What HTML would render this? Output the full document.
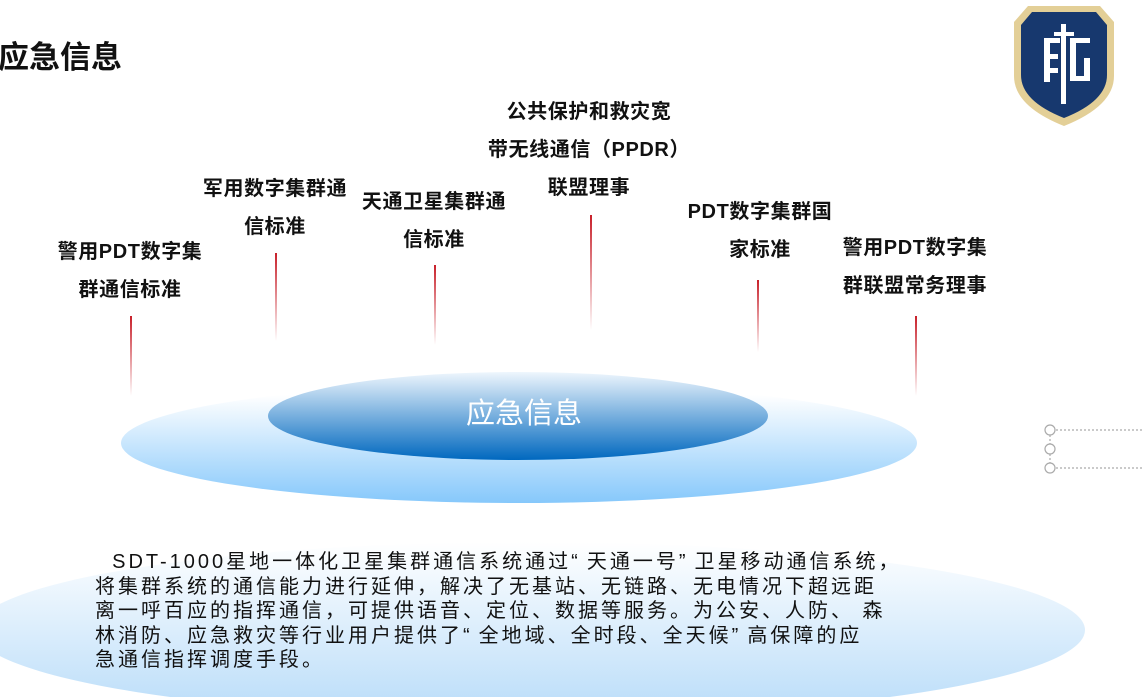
<!DOCTYPE html>
<html><head><meta charset="utf-8"><style>
body{margin:0;width:1142px;height:697px;overflow:hidden;background:#fff;position:relative;font-family:"Liberation Sans","Noto Sans CJK SC",sans-serif}
.t{position:absolute;font-weight:bold;font-size:20px;letter-spacing:0.6px;line-height:38px;text-align:center;color:#111;white-space:nowrap;transform:translateX(-50%)}
.l{position:absolute;width:2px;background:linear-gradient(#c8202a,rgba(200,32,42,0))}
.p{position:absolute;left:95px;top:550px;font-size:20px;line-height:24.6px;color:#111;letter-spacing:3px;white-space:nowrap}
.q{letter-spacing:9px}
</style></head><body>
<div style="position:absolute;left:-2px;top:32px;font-size:31px;font-weight:bold;color:#111">应急信息</div>

<svg width="1142" height="697" style="position:absolute;left:0;top:0">
<defs>
<linearGradient id="o" x1="0" y1="0" x2="0" y2="1"><stop offset="0.1" stop-color="#fff"/><stop offset="1" stop-color="#86c8fb"/></linearGradient>
<linearGradient id="i" x1="0" y1="0" x2="0" y2="1"><stop offset="0" stop-color="#eef6fd"/><stop offset="1" stop-color="#0068bf"/></linearGradient>
<linearGradient id="b" x1="0" y1="0" x2="0" y2="1"><stop offset="0" stop-color="#fff"/><stop offset="1" stop-color="#b8dcf9"/></linearGradient>
</defs>
<ellipse cx="530" cy="630" rx="555" ry="88" fill="url(#b)"/>
<ellipse cx="519" cy="443" rx="398" ry="60" fill="url(#o)"/>
<ellipse cx="518" cy="416" rx="250" ry="44" fill="url(#i)"/>
<text x="524" y="423" font-size="29" fill="#fff" text-anchor="middle" font-family="Liberation Sans,Noto Sans CJK SC,sans-serif">应急信息</text>
<g fill="none" stroke="#aaa" stroke-width="1.2">
<circle cx="1050" cy="430" r="5"/><circle cx="1050" cy="449" r="5"/><circle cx="1050" cy="468" r="5"/>
<path d="M1056 430H1142M1056 468H1142M1050 435V444M1050 454V463" stroke-dasharray="2 2"/>
</g>
<g transform="translate(1014,6)">
<path d="M14 0H86L100 16V70Q100 100 50 120Q0 100 0 70V16Z" fill="#e3cf97"/>
<path d="M18 6H82L93 19V69Q93 95 50 112Q7 95 7 69V19Z" fill="#17386e"/>
<g fill="#fff">
<rect x="30" y="32" width="6" height="44"/><rect x="30" y="32" width="16" height="5"/><rect x="30" y="48" width="14" height="5"/><rect x="30" y="62" width="14" height="5"/>
<rect x="47" y="18" width="5" height="80"/><rect x="40" y="26" width="20" height="4"/>
<rect x="56" y="32" width="20" height="5"/><rect x="56" y="32" width="6" height="42"/><rect x="56" y="70" width="20" height="5"/><rect x="70" y="52" width="6" height="22"/>
</g></g>
</svg>

<div class="t" style="left:130px;top:233px">警用PDT数字集<br>群通信标准</div>
<div class="l" style="left:130px;top:316px;height:80px"></div>
<div class="t" style="left:275px;top:170px">军用数字集群通<br>信标准</div>
<div class="l" style="left:275px;top:253px;height:88px"></div>
<div class="t" style="left:434px;top:183px">天通卫星集群通<br>信标准</div>
<div class="l" style="left:434px;top:265px;height:80px"></div>
<div class="t" style="left:589px;top:93px">公共保护和救灾宽<br>带无线通信（PPDR）<br>联盟理事</div>
<div class="l" style="left:590px;top:215px;height:115px"></div>
<div class="t" style="left:760px;top:193px">PDT数字集群国<br>家标准</div>
<div class="l" style="left:757px;top:280px;height:72px"></div>
<div class="t" style="left:915px;top:229px">警用PDT数字集<br>群联盟常务理事</div>
<div class="l" style="left:915px;top:316px;height:80px"></div>

<div class="p">&nbsp;&nbsp;SDT-1000星地一体化卫星集群通信系统通过<span class="q">“</span>天通一号<span class="q">”</span>卫星移动通信系统，<br>将集群系统的通信能力进行延伸，解决了无基站、无链路、无电情况下超远距<br>离一呼百应的指挥通信，可提供语音、定位、数据等服务。为公安、人防、 森<br>林消防、应急救灾等行业用户提供了<span class="q">“</span>全地域、全时段、全天候<span class="q">”</span>高保障的应<br>急通信指挥调度手段。</div>
</body></html>
